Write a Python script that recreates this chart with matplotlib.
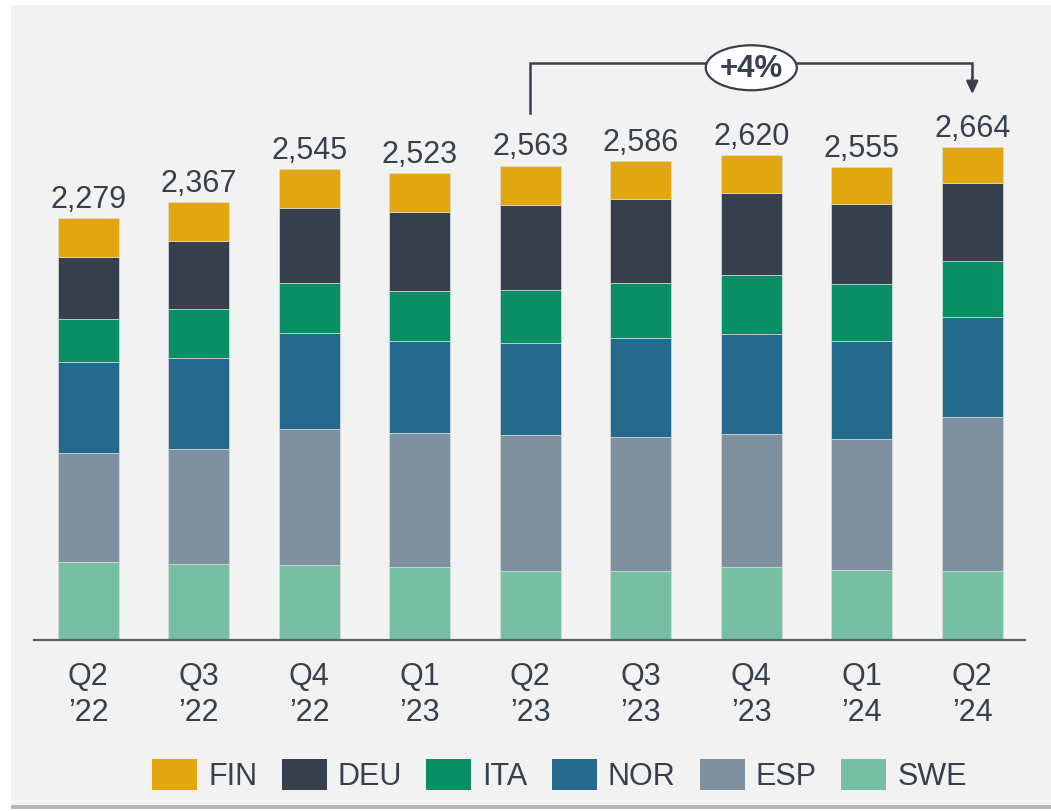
import matplotlib
matplotlib.use("Agg")
import matplotlib.pyplot as plt
from matplotlib.patches import Rectangle, Ellipse, Patch
import numpy as np

plt.rcParams['font.family'] = ['Liberation Sans', 'DejaVu Sans']

quarters = ["Q2\n\u201922", "Q3\n\u201922", "Q4\n\u201922", "Q1\n\u201923", "Q2\n\u201923",
            "Q3\n\u201923", "Q4\n\u201923", "Q1\n\u201924", "Q2\n\u201924"]
totals = [2279, 2367, 2545, 2523, 2563, 2586, 2620, 2555, 2664]

# stacked from bottom to top
swe = [423, 411, 404, 395, 372, 374, 392, 379, 375]
esp = [587, 623, 735, 724, 735, 725, 720, 709, 831]
nor = [490, 488, 519, 494, 500, 532, 542, 527, 538]
ita = [234, 265, 270, 271, 286, 298, 317, 306, 301]
deu = [337, 369, 405, 426, 459, 451, 442, 435, 425]
fin = [208, 211, 212, 213, 211, 206, 207, 199, 194]

series_names = ["SWE", "ESP", "NOR", "ITA", "DEU", "FIN"]
series_vals = [swe, esp, nor, ita, deu, fin]
colors = {"SWE": "#77BFA3", "ESP": "#7F909F", "NOR": "#256A8D",
          "ITA": "#098E66", "DEU": "#36414D", "FIN": "#E2A60E"}

growth_label = "+4%"
TXT = "#36414D"

W, H = 1051, 812
fig = plt.figure(figsize=(W / 100, H / 100), dpi=100, facecolor="white")

# panel with shadow
fig.patches.append(Rectangle((11 / W, 1 - 810 / H), 1 - 11 / W, 804 / H,
                             transform=fig.transFigure, facecolor="#B5B5B5",
                             edgecolor="none", zorder=-10))
fig.patches.append(Rectangle((11 / W, 1 - 806 / H), 1 - 11 / W, 800 / H,
                             transform=fig.transFigure, facecolor="#F2F2F2",
                             edgecolor="none", zorder=-9))

ax = fig.add_axes([33.5 / W, 1 - 641 / H, (1025 - 33.5) / W, 621 / H])
ax.set_zorder(2)
ax.set_facecolor("none")

x = np.arange(len(quarters))
bottom = np.zeros(len(quarters))
for name, vals in zip(series_names, series_vals):
    ax.bar(x, vals, width=0.552, bottom=bottom, color=colors[name],
           edgecolor="#D8DCDF", linewidth=0.5, zorder=2)
    bottom += np.array(vals)

for xi, t in zip(x, totals):
    ax.annotate(f"{t:,}", (xi, t), xytext=(0, 8), textcoords="offset points",
                ha="center", va="baseline", fontsize=22, color=TXT)

ax.set_xlim(-0.496, 8.477)
ax.set_ylim(0, 3355)
ax.set_xticks(x)
ax.set_xticklabels(quarters, fontsize=22, color=TXT, linespacing=1.25)
ax.tick_params(axis="x", length=0, pad=15)
ax.set_yticks([])
for s in ["left", "right", "top"]:
    ax.spines[s].set_visible(False)
ax.spines["bottom"].set_color("#56606B")
ax.spines["bottom"].set_linewidth(1.6)

# growth bracket
i0, i1 = 4, 8
off = 285
yline = max(totals) * 1.171
ax.plot([x[i0], x[i0], x[i1], x[i1]],
        [totals[i0] + off, yline, yline, totals[i1] + off + 90],
        color=TXT, lw=1.8, solid_joinstyle="miter", zorder=3, clip_on=False)
ax.annotate("", xy=(x[i1], totals[i1] + off), xytext=(x[i1], totals[i1] + off + 95),
            arrowprops=dict(arrowstyle="-|>,head_length=0.75,head_width=0.35",
                            color=TXT, lw=1.8, shrinkA=0, shrinkB=0),
            annotation_clip=False, zorder=4)
xc = (x[i0] + x[i1]) / 2
ell = Ellipse((xc, yline - 28), 0.824, 243, facecolor="white", edgecolor=TXT,
              lw=1.6, zorder=5, clip_on=False)
ax.add_patch(ell)
ax.text(xc, yline - 28, growth_label, ha="center", va="center", fontsize=22.5,
        fontweight="bold", color=TXT, zorder=6)

# legend
legend_order = ["FIN", "DEU", "ITA", "NOR", "ESP", "SWE"]
handles = [Patch(facecolor=colors[n], edgecolor="none", label=n) for n in legend_order]
leg = fig.legend(handles=handles, loc="center", bbox_to_anchor=(559.5 / W, 1 - 776 / H),
                 ncol=6, frameon=False, fontsize=22, handlelength=1.47,
                 handleheight=1.2, handletextpad=0.36, columnspacing=0.8,
                 borderpad=0, borderaxespad=0)
for t in leg.get_texts():
    t.set_color(TXT)

fig.savefig("out.png", dpi=100, facecolor=fig.get_facecolor())
